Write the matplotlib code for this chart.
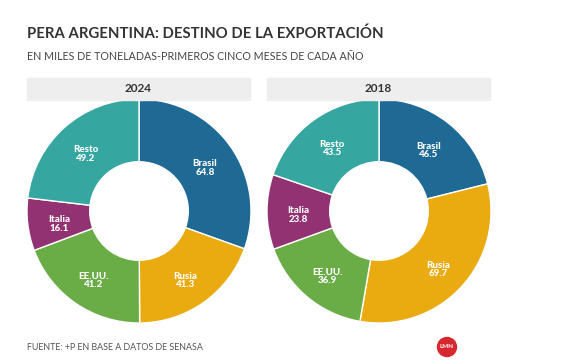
import numpy as np
import matplotlib.pyplot as plt
from matplotlib.patches import Rectangle, Ellipse

plt.rcParams['font.family'] = ['Lato', 'DejaVu Sans']

paises = ['Brasil', 'Rusia', 'EE.UU.', 'Italia', 'Resto']
valores_2024 = [64.8, 41.3, 41.2, 16.1, 49.2]
valores_2018 = [46.5, 69.7, 36.9, 23.8, 43.5]
colores = ['#1f6995', '#e9ab0f', '#6aad47', '#923272', '#36a6a0']

W, H = 566, 364
fig = plt.figure(figsize=(W / 100, H / 100), dpi=100)


def px(x, y, w, h):
    # pixel box (from top-left) -> figure fraction
    return [x / W, 1 - (y + h) / H, w / W, h / H]


fig.text(27 / W, 1 - 34 / H, 'PERA ARGENTINA: DESTINO DE LA EXPORTACIÓN',
         fontsize=10.7, fontweight='bold', color='#333333', va='center')
fig.text(27 / W, 1 - 57 / H, 'EN MILES DE TONELADAS-PRIMEROS CINCO MESES DE CADA AÑO',
         fontsize=7.7, color='#444444', va='center')
fig.text(27 / W, 1 - 348 / H, 'FUENTE: +P EN BASE A DATOS DE SENASA',
         fontsize=6.4, color='#555555', va='center')

# logo
fig.patches.append(Ellipse((447 / W, 1 - 347 / H), 19 / W, 19 / H, transform=fig.transFigure,
                           color='#d7282f', zorder=5))
fig.text(447 / W, 1 - 347 / H, 'LMN', fontsize=4.5, color='white', fontweight='bold',
         ha='center', va='center', zorder=6)


def donut(x0, anio, valores):
    # header
    fig.patches.append(Rectangle((x0 / W, 1 - 100 / H), 223 / W, 22 / H,
                                 transform=fig.transFigure, color='#eeeeee', zorder=0))
    fig.text((x0 + 111.5) / W, 1 - 89 / H, anio, fontsize=8.5, fontweight='bold',
             color='#333333', ha='center', va='center')

    ax = fig.add_axes(px(x0, 99, 224, 224))
    ax.pie(valores, colors=colores, startangle=90, counterclock=False, radius=1,
           wedgeprops=dict(width=0.56, edgecolor='white', linewidth=1))
    tot = sum(valores)
    ang = 90
    for nombre, v in zip(paises, valores):
        mid = np.deg2rad(ang - v / tot * 360 / 2)
        ang -= v / tot * 360
        r = 0.72
        ax.text(r * np.cos(mid), r * np.sin(mid) - 0.03, f'{nombre}\n{v}', color='white',
                fontsize=7, fontweight='black', ha='center', va='center', linespacing=0.9)
    ax.set_xlim(-1, 1)
    ax.set_ylim(-1, 1)
    ax.set_aspect('equal')
    ax.axis('off')


donut(27, '2024', valores_2024)
donut(267, '2018', valores_2018)

fig.savefig('out.png', dpi=100)
